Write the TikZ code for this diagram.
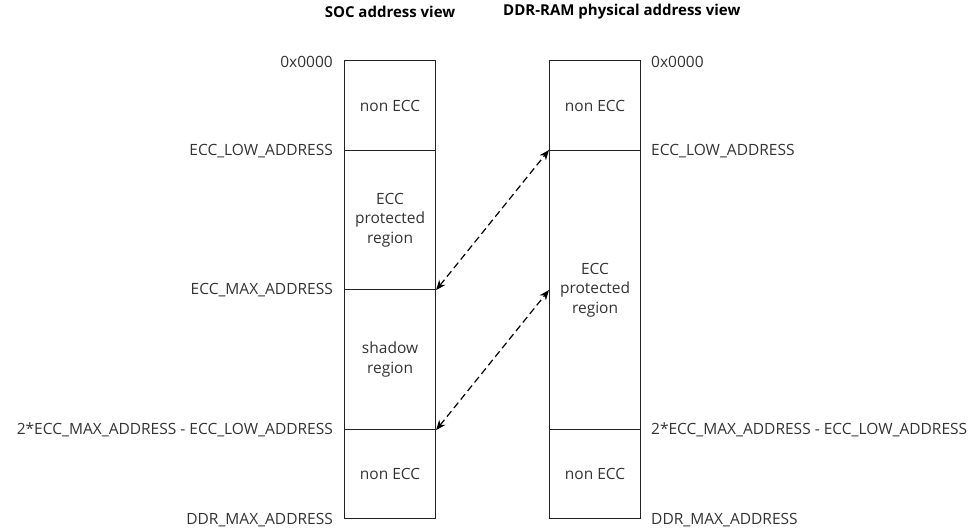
\documentclass[tikz,border=0pt]{standalone}
\usepackage{fontspec}
\setmainfont{Open Sans}
\usetikzlibrary{arrows.meta}
\definecolor{txt}{HTML}{333333}
\definecolor{ln}{HTML}{222222}
\begin{document}
\begin{tikzpicture}[x=1pt,y=-1pt,
  every node/.style={font=\fontsize{15.5}{19.5}\selectfont, text=txt},
  region/.style={draw=ln, line width=1.1pt, rectangle, minimum width=91pt, inner sep=0pt, align=center, anchor=north west},
  lbl/.style={inner sep=0pt},
  title/.style={font=\fontsize{15}{19}\selectfont\bfseries, text=black, inner sep=0pt},
  link/.style={draw=black, line width=1.2pt, dash pattern=on 7pt off 4pt, {Stealth[length=10pt,width=8pt]}-{Stealth[length=10pt,width=8pt]}}
]
\useasboundingbox (0,0) rectangle (972,531);
% titles
\node[title] (t1) at (390,12) {SOC address view};
\node[title, anchor=west] (t2) at (503,12) {DDR-RAM physical address view};
% left column
\node[region, minimum height=90pt] (L1) at (344,60) {non ECC};
\node[region, minimum height=139pt] (L2) at (344,150) {ECC\\protected\\region};
\node[region, minimum height=140pt] (L3) at (344,289) {shadow\\region};
\node[region, minimum height=89pt] (L4) at (344,429) {non ECC};
% right column
\node[region, minimum height=90pt] (R1) at (549,60) {non ECC};
\node[region, minimum height=279pt] (R2) at (549,150) {ECC\\protected\\region};
\node[region, minimum height=89pt] (R3) at (549,429) {non ECC};
% left labels
\node[lbl, anchor=east] (a1) at (333,62) {0x0000};
\node[lbl, anchor=east] (a2) at (333,151) {ECC\_LOW\_ADDRESS};
\node[lbl, anchor=east] (a3) at (333,290) {ECC\_MAX\_ADDRESS};
\node[lbl, anchor=east] (a4) at (333,430) {2*ECC\_MAX\_ADDRESS - ECC\_LOW\_ADDRESS};
\node[lbl, anchor=east] (a5) at (333,520) {DDR\_MAX\_ADDRESS};
% right labels
\node[lbl, anchor=west] (b1) at (651,62) {0x0000};
\node[lbl, anchor=west] (b2) at (651,151) {ECC\_LOW\_ADDRESS};
\node[lbl, anchor=west] (b4) at (651,430) {2*ECC\_MAX\_ADDRESS - ECC\_LOW\_ADDRESS};
\node[lbl, anchor=west] (b5) at (651,520) {DDR\_MAX\_ADDRESS};
% links
\draw[link] (L2.south east) -- (R2.north west);
\draw[link] (L3.south east) -- (R2.west);
\end{tikzpicture}
\end{document}
